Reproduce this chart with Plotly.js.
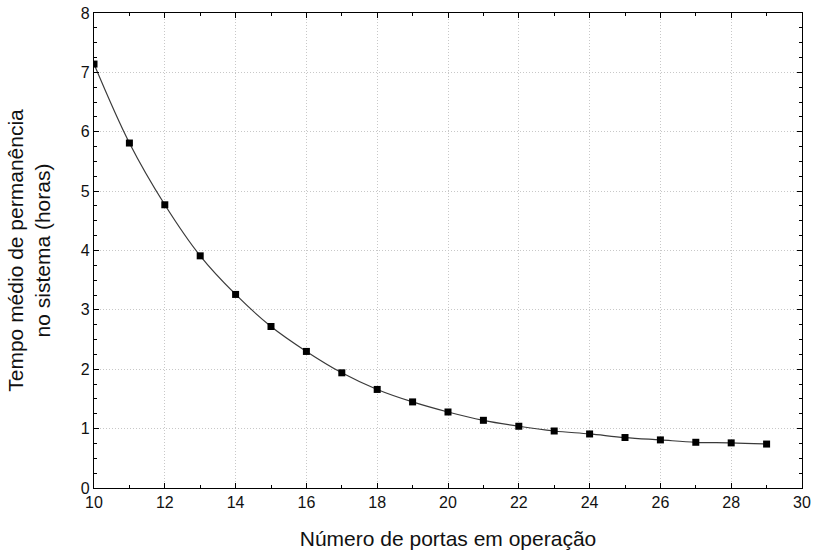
<!DOCTYPE html>
<html>
<head>
<meta charset="utf-8">
<script src="https://cdn.plot.ly/plotly-3.0.1.min.js"></script>
<style>html,body{margin:0;padding:0;background:#fff;}#chart{width:817px;height:554px;}</style>
</head>
<body>
<div id="chart"></div>
<script>
var portas = [10, 11, 12, 13, 14, 15, 16, 17, 18, 19, 20, 21, 22, 23, 24, 25, 26, 27, 28, 29];
var tempoMedio = [7.14, 5.81, 4.77, 3.91, 3.26, 2.72, 2.30, 1.94, 1.66, 1.45, 1.28, 1.14, 1.04, 0.96, 0.91, 0.85, 0.81, 0.77, 0.76, 0.74];
var xTitle = "Número de portas em operação";
var yTitle = "Tempo médio de permanência<br>no sistema (horas)";

var traces = [
  {x: portas, y: tempoMedio, type: 'scatter', mode: 'lines', line: {shape: 'spline', smoothing: 1, color: '#3a3a3a', width: 1.2}, hoverinfo: 'skip', showlegend: false},
  {x: portas, y: tempoMedio, type: 'scatter', mode: 'markers', marker: {symbol: 'square', size: 7, color: '#000'}, showlegend: false}
];

var fontFam = 'Liberation Sans, Arial, sans-serif';
var layout = {
  width: 817, height: 554,
  margin: {l: 94, r: 15, t: 13, b: 66},
  paper_bgcolor: '#fff', plot_bgcolor: '#fff',
  font: {family: fontFam, color: '#111', size: 16},
  xaxis: {
    range: [10, 30], dtick: 2, tick0: 10,
    ticks: 'inside', ticklen: 5, tickcolor: '#000', tickwidth: 1,
    showline: true, linecolor: '#000', linewidth: 1.2, mirror: 'allticks',
    showgrid: true, gridcolor: '#c8c8c8', griddash: '1px,2px', gridwidth: 1,
    zeroline: false, automargin: false,
    minor: {dtick: 1, ticks: 'inside', ticklen: 3, tickcolor: '#000', showgrid: false},
    tickfont: {size: 16},
    title: {text: xTitle, font: {size: 21}, standoff: 20}
  },
  yaxis: {
    range: [0, 8], dtick: 1, tick0: 0,
    ticks: 'inside', ticklen: 5, tickcolor: '#000', tickwidth: 1,
    showline: true, linecolor: '#000', linewidth: 1.2, mirror: 'allticks',
    showgrid: true, gridcolor: '#c8c8c8', griddash: '1px,2px', gridwidth: 1,
    zeroline: false, automargin: false,
    minor: {dtick: 0.25, ticks: 'inside', ticklen: 3, tickcolor: '#000', showgrid: false},
    tickfont: {size: 16},
    title: {text: yTitle, font: {size: 21}, standoff: 24}
  }
};

Plotly.newPlot('chart', traces, layout, {displayModeBar: false, staticPlot: true});
</script>
</body>
</html>
